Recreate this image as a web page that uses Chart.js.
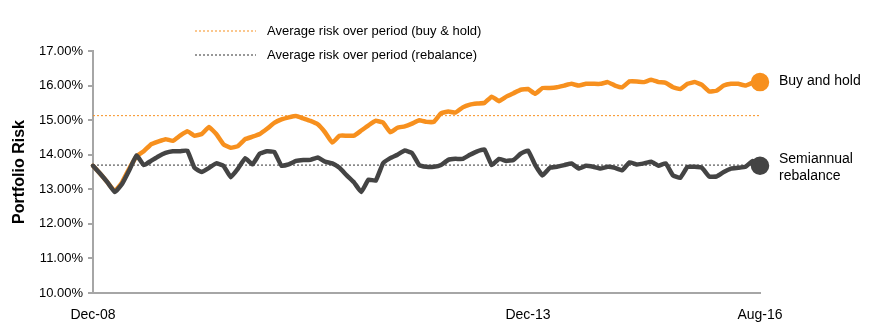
<!DOCTYPE html>
<html>
<head>
<meta charset="utf-8">
<script src="https://cdn.jsdelivr.net/npm/chart.js@4.4.1/dist/chart.umd.min.js"></script>
<style>
  html, body { margin: 0; padding: 0; background: #fff; }
</style>
</head>
<body>
<canvas id="riskChart" width="875" height="330"></canvas>
<script>
// Monthly data, Dec-08 .. Aug-16 (93 months)
const tickLabels = ["Dec-08", "Dec-13", "Aug-16"];

const buyHold = [
  13.68, 13.45, 13.2, 12.95, 13.2, 13.6, 13.95, 14.1, 14.3, 14.38,
  14.45, 14.4, 14.55, 14.68, 14.55, 14.6, 14.8, 14.6, 14.3, 14.2,
  14.25, 14.45, 14.52, 14.6, 14.75, 14.92, 15.02, 15.08, 15.12, 15.05,
  14.98, 14.88, 14.65, 14.35, 14.55, 14.55, 14.55, 14.7, 14.85, 14.98,
  14.93, 14.65, 14.78, 14.82, 14.9, 15.0, 14.95, 14.95, 15.2, 15.25,
  15.22, 15.37, 15.45, 15.48, 15.5, 15.68, 15.55, 15.68, 15.78, 15.88,
  15.9, 15.76, 15.93, 15.93, 15.95, 16.0, 16.05, 16.0, 16.05, 16.05,
  16.05, 16.1, 16.0, 15.95, 16.12, 16.12, 16.1, 16.17, 16.1, 16.08,
  15.95, 15.9, 16.05, 16.1, 16.02, 15.83, 15.85, 16.0, 16.05, 16.05,
  16.0, 16.08, 16.1
];

const rebalance = [
  13.68, 13.45, 13.2, 12.92, 13.15, 13.55, 13.98, 13.7, 13.82, 13.95,
  14.05, 14.1, 14.1, 14.12, 13.62, 13.5, 13.62, 13.75, 13.68, 13.35,
  13.6, 13.9, 13.72, 14.03, 14.1, 14.08, 13.68, 13.72, 13.82, 13.85,
  13.85, 13.92, 13.8, 13.75, 13.62, 13.4, 13.2, 12.92, 13.28, 13.25,
  13.75, 13.9, 14.0, 14.12, 14.05, 13.7, 13.65, 13.65, 13.7, 13.85,
  13.88, 13.88, 14.0, 14.1, 14.15, 13.7, 13.88, 13.82, 13.85, 14.03,
  14.12, 13.7, 13.4, 13.62, 13.65, 13.7, 13.75, 13.6, 13.68, 13.65,
  13.6, 13.65, 13.62, 13.55, 13.78, 13.72, 13.75, 13.8, 13.68, 13.75,
  13.4, 13.33, 13.65, 13.65, 13.62, 13.37, 13.37, 13.5, 13.6, 13.62,
  13.65, 13.82, 13.68
];

const avgBuyHold = 15.13;
const avgRebalance = 13.7;

const ORANGE = "#F7901E";
const DARK = "#444444";
const FONT = '"Liberation Sans", Arial, sans-serif';

// month labels for the category axis
const monthNames = ["Jan","Feb","Mar","Apr","May","Jun","Jul","Aug","Sep","Oct","Nov","Dec"];
const months = [];
for (let i = 0; i < buyHold.length; i++) {
  const m = (11 + i) % 12;
  const y = 8 + Math.floor((11 + i) / 12);
  months.push(monthNames[m] + "-" + String(y).padStart(2, "0"));
}

const legendItems = [
  { text: "Average risk over period (buy & hold)", color: ORANGE },
  { text: "Average risk over period (rebalance)", color: "#333333" }
];

const endLabels = [
  { dataset: 0, lines: ["Buy and hold"] },
  { dataset: 1, lines: ["Semiannual", "rebalance"] }
];

const lastOnly = (r) => buyHold.map((_, i) => i === buyHold.length - 1 ? r : 0);

const labelsPlugin = {
  id: "labelsPlugin",
  afterDraw(chart) {
    const ctx = chart.ctx;
    ctx.save();
    // legend for the average lines
    legendItems.forEach((item, i) => {
      const y = 31 + i * 24;
      ctx.strokeStyle = item.color;
      ctx.lineWidth = 1;
      ctx.setLineDash([2, 2]);
      ctx.beginPath();
      ctx.moveTo(195, y);
      ctx.lineTo(256, y);
      ctx.stroke();
      ctx.setLineDash([]);
      ctx.fillStyle = "#000";
      ctx.font = "13px " + FONT;
      ctx.textBaseline = "middle";
      ctx.fillText(item.text, 267, y);
    });
    // labels next to the series end points
    endLabels.forEach(lab => {
      const pts = chart.getDatasetMeta(lab.dataset).data;
      const p = pts[pts.length - 1];
      ctx.fillStyle = "#000";
      ctx.font = "14px " + FONT;
      ctx.textBaseline = "middle";
      const n = lab.lines.length;
      lab.lines.forEach((t, k) => {
        const dy = n === 1 ? -1 : (k === 0 ? -7 : 10);
        ctx.fillText(t, p.x + 19, p.y + dy);
      });
    });
    ctx.restore();
  }
};

new Chart(document.getElementById("riskChart"), {
  type: "line",
  data: {
    labels: months,
    datasets: [
      {
        label: "Buy and hold",
        data: buyHold,
        borderColor: ORANGE,
        backgroundColor: ORANGE,
        borderWidth: 4.5,
        pointRadius: lastOnly(7),
        pointHoverRadius: 0,
        borderJoinStyle: "round",
        borderCapStyle: "round",
        tension: 0.1,
        order: 1
      },
      {
        label: "Semiannual rebalance",
        data: rebalance,
        borderColor: DARK,
        backgroundColor: DARK,
        borderWidth: 4.5,
        pointRadius: lastOnly(7),
        pointHoverRadius: 0,
        borderJoinStyle: "round",
        borderCapStyle: "round",
        tension: 0.1,
        order: 0
      },
      {
        label: "Average risk over period (buy & hold)",
        data: buyHold.map(() => avgBuyHold),
        borderColor: ORANGE,
        borderWidth: 1,
        borderDash: [2, 2],
        pointRadius: 0,
        order: 3
      },
      {
        label: "Average risk over period (rebalance)",
        data: rebalance.map(() => avgRebalance),
        borderColor: "#333333",
        borderWidth: 1,
        borderDash: [2, 2],
        pointRadius: 0,
        order: 2
      }
    ]
  },
  options: {
    responsive: false,
    animation: false,
    devicePixelRatio: 1,
    layout: { padding: { left: 0, right: 115, top: 51, bottom: 0 } },
    plugins: {
      legend: { display: false },
      tooltip: { enabled: false }
    },
    scales: {
      x: {
        offset: false,
        border: { display: true, color: "#a6a6a6", width: 2 },
        grid: { display: false },
        ticks: {
          autoSkip: false,
          maxRotation: 0,
          padding: 6,
          color: "#000",
          font: { family: FONT, size: 14 },
          callback: function (v, i) {
            const l = months[i];
            return tickLabels.includes(l) ? l : null;
          }
        },
        afterFit: s => { s.height = 37; }
      },
      y: {
        min: 10,
        max: 17,
        border: { display: true, color: "#a6a6a6", width: 2 },
        grid: { drawOnChartArea: false, drawTicks: true, tickLength: 5, color: "#a6a6a6", lineWidth: 2 },
        ticks: {
          stepSize: 1,
          padding: 5,
          color: "#000",
          font: { family: FONT, size: 13 },
          callback: v => v.toFixed(2) + "%"
        },
        title: {
          display: true,
          text: "Portfolio Risk",
          color: "#000",
          font: { family: FONT, size: 16, weight: "bold" },
          padding: { top: 10, bottom: 0 }
        },
        afterFit: s => { s.width = 93; }
      }
    }
  },
  plugins: [labelsPlugin]
});
</script>
</body>
</html>
